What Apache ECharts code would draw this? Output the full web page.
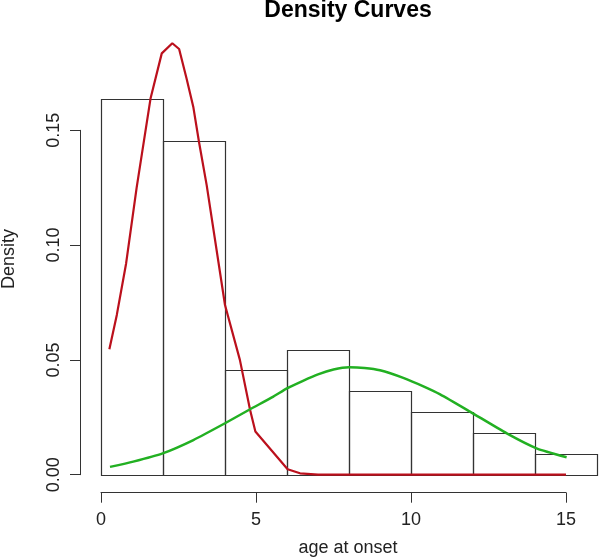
<!DOCTYPE html>
<html>
<head>
<meta charset="utf-8">
<script src="https://cdn.jsdelivr.net/npm/echarts@6/dist/echarts.min.js"></script>
<style>
html,body{margin:0;padding:0;background:#fff;}
#chart{width:600px;height:560px;}
</style>
</head>
<body>
<div id="chart"></div>
<script>
// Histogram bins (age at onset) and densities
var binStarts = [0, 2, 4, 6, 8, 10, 12, 14];
var binEnds   = [2, 4, 6, 8, 10, 12, 14, 16];
var binDensity = [0.1636, 0.1455, 0.0455, 0.0545, 0.0364, 0.0273, 0.0182, 0.0091];

// Red density curve
var redX = [0.27, 0.51, 0.81, 1.15, 1.60, 1.96, 2.30, 2.52, 2.76, 2.98, 3.16, 3.41, 4.00, 4.48, 4.81, 4.98, 6.02, 6.42, 7.0, 15.0];
var redY = [0.0546, 0.0696, 0.0920, 0.1250, 0.1640, 0.1835, 0.1879, 0.1854, 0.1726, 0.1600, 0.1450, 0.1260, 0.0739, 0.0500, 0.0282, 0.0188, 0.0024, 0.0006, 0.0, 0.0];

// Green density curve
var greenX = [0.29, 1.04, 1.99, 2.98, 4.00, 4.81, 5.56, 6.00, 6.50, 7.00, 7.50, 8.00, 8.50, 9.00, 9.75, 10.40, 10.94, 11.90, 13.09, 14.05, 15.02];
var greenY = [0.0034, 0.0057, 0.0093, 0.0151, 0.0224, 0.0285, 0.0340, 0.0376, 0.0408, 0.0437, 0.0458, 0.0468, 0.0465, 0.0455, 0.0422, 0.0385, 0.0350, 0.0275, 0.0180, 0.0115, 0.0076];

// Axis ticks
var xTicks = [0, 5, 10, 15];
var yTicks = [0, 0.05, 0.10, 0.15];

var FONT = "'Liberation Sans', Arial, sans-serif";

var histData = binStarts.map(function (s, i) { return [s, binEnds[i], binDensity[i]]; });
var redData = redX.map(function (x, i) { return [x, redY[i]]; });
var greenData = greenX.map(function (x, i) { return [x, greenY[i]]; });

var chart = echarts.init(document.getElementById('chart'), null, {renderer: 'canvas'});

var option = {
  animation: false,
  backgroundColor: '#ffffff',
  grid: { left: 101, right: 34, top: 130.3, bottom: 85.3, containLabel: false },
  xAxis: {
    type: 'value',
    min: xTicks[0], max: xTicks[xTicks.length - 1], interval: 5,
    offset: 18,
    axisLine: { show: true, onZero: false, lineStyle: { color: '#333', width: 1 } },
    axisTick: { show: true, length: 10, lineStyle: { color: '#333', width: 1 } },
    axisLabel: { margin: 18, fontSize: 18, color: '#222', fontFamily: FONT },
    splitLine: { show: false }
  },
  yAxis: {
    type: 'value',
    min: yTicks[0], max: yTicks[yTicks.length - 1], interval: 0.05,
    offset: 21,
    axisLine: { show: true, onZero: false, lineStyle: { color: '#333', width: 1 } },
    axisTick: { show: true, length: 10, lineStyle: { color: '#333', width: 1 } },
    axisLabel: {
      rotate: 90, margin: 17, fontSize: 18, color: '#222', fontFamily: FONT,
      formatter: function (v) { return v.toFixed(2); }
    },
    splitLine: { show: false }
  },
  graphic: [
    { type: 'text', x: 348, y: 10.5, style: { text: 'Density Curves', font: 'bold 23px ' + FONT, fill: '#000', textAlign: 'center', textVerticalAlign: 'middle' } },
    { type: 'text', x: 348, y: 548.5, style: { text: 'age at onset', font: '18px ' + FONT, fill: '#222', textAlign: 'center', textVerticalAlign: 'middle' } },
    { type: 'text', x: 9, y: 259, rotation: Math.PI / 2, style: { text: 'Density', font: '18px ' + FONT, fill: '#222', textAlign: 'center', textVerticalAlign: 'middle' } }
  ],
  series: [
    {
      type: 'custom',
      clip: false,
      data: histData,
      encode: { x: [0, 1], y: 2 },
      renderItem: function (params, api) {
        var p0 = api.coord([api.value(0), api.value(2)]);
        var p1 = api.coord([api.value(1), 0]);
        var x0 = Math.round(p0[0]) + 0.5, x1 = Math.round(p1[0]) + 0.5;
        var y0 = Math.round(p0[1]) + 0.5, y1 = Math.round(p1[1]) + 0.5;
        return {
          type: 'rect',
          shape: { x: x0, y: y0, width: x1 - x0, height: y1 - y0 },
          style: { fill: 'none', stroke: '#333', lineWidth: 1.2 }
        };
      },
      z: 1
    },
    {
      type: 'line',
      clip: false,
      data: redData,
      showSymbol: false,
      symbol: 'none',
      lineStyle: { color: '#bb101c', width: 2.2 },
      z: 2
    },
    {
      type: 'line',
      clip: false,
      data: greenData,
      showSymbol: false,
      symbol: 'none',
      smooth: 0.2,
      lineStyle: { color: '#22b022', width: 2.5 },
      z: 3
    }
  ]
};
chart.setOption(option);
</script>
</body>
</html>
